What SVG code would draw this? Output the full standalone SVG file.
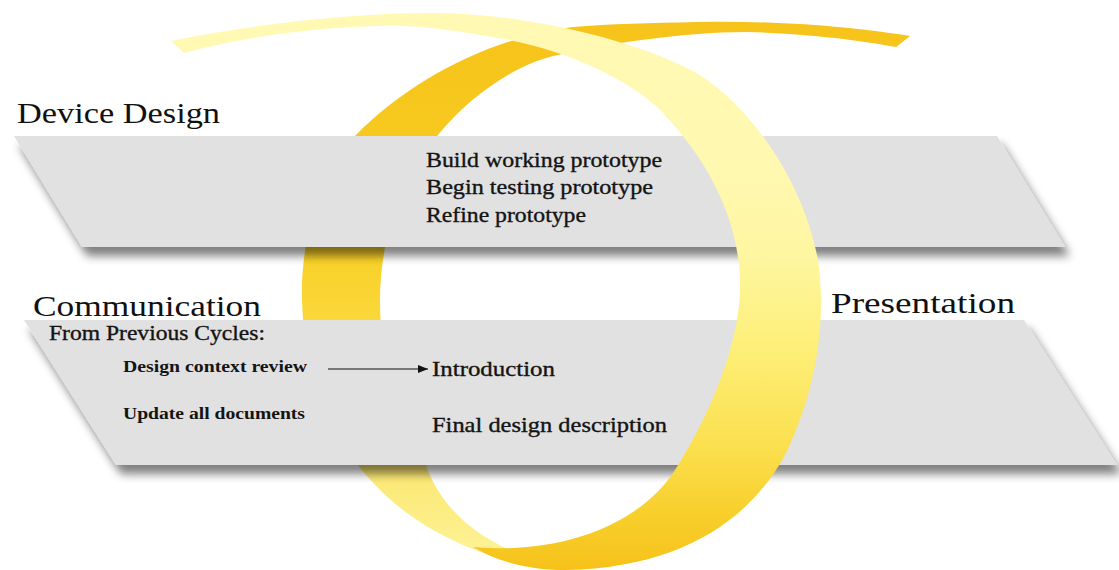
<svg xmlns="http://www.w3.org/2000/svg" width="1119" height="570" viewBox="0 0 1119 570">
<style>
.title{font-family:"Liberation Serif","Times New Roman",serif;font-size:29px;fill:#111;}
.body{font-family:"Liberation Serif","Times New Roman",serif;font-size:21px;fill:#141414;stroke:#141414;stroke-width:0.35px;}
.small{font-family:"Liberation Serif","Times New Roman",serif;font-size:17px;font-weight:bold;fill:#141414;}
.band{fill:#e1e1e1;}
</style>
<defs>
<filter id="shadow" x="-10%" y="-30%" width="120%" height="160%">
<feGaussianBlur in="SourceAlpha" stdDeviation="5"/>
<feOffset dx="5" dy="9" result="b"/>
<feComponentTransfer in="b" result="s"><feFuncA type="linear" slope="0.5"/></feComponentTransfer>
<feMerge><feMergeNode in="s"/><feMergeNode in="SourceGraphic"/></feMerge>
</filter>
<linearGradient id="backGrad" gradientUnits="userSpaceOnUse" x1="0" y1="20" x2="0" y2="570">
<stop offset="0" stop-color="#f6c31a"/>
<stop offset="0.4" stop-color="#f8ce24"/>
<stop offset="0.55" stop-color="#fad83b"/>
<stop offset="0.8" stop-color="#fbe66e"/>
<stop offset="1" stop-color="#fdf49c"/>
</linearGradient>
<linearGradient id="frontGrad" gradientUnits="userSpaceOnUse" x1="0" y1="0" x2="0" y2="570">
<stop offset="0" stop-color="#fff9b4"/>
<stop offset="0.3" stop-color="#fff8b0"/>
<stop offset="0.45" stop-color="#fef6a0"/>
<stop offset="0.6" stop-color="#fdf07a"/>
<stop offset="0.78" stop-color="#fbe050"/>
<stop offset="0.9" stop-color="#f8cf2c"/>
<stop offset="1" stop-color="#f6c21a"/>
</linearGradient>
<marker id="arrow" viewBox="0 0 10 8" refX="10" refY="4" markerWidth="10" markerHeight="8" markerUnits="userSpaceOnUse" orient="auto">
<path d="M0,0 L10,4 L0,8 Z" fill="#111"/>
</marker>
</defs>
<rect width="1119" height="570" fill="#ffffff"/>

<!-- back part of ribbon (behind bands) -->
<g id="ribbon-back">
<path fill="url(#backGrad)" d="M910,36 C860,28 780,20 697,22 C650,23 610,24 573,27 C490,38 410,80 356,135 C320,175 300,240 302,300 C304,380 330,440 380,490 C420,530 480,558 540,568 L510,550 C465,530 438,500 426,465 C400,420 380,370 380,300 C380,240 400,180 438,135 C470,95 520,62 558,55 C600,45 680,32 747,32 C800,33 860,40 896,47 Z"/>
</g>

<g id="band-device-design">
<polygon class="band" filter="url(#shadow)" points="14,136 997,136 1065,247 82,247"/>
</g>
<g id="band-communication">
<polygon class="band" filter="url(#shadow)" points="24,320 1024,320 1117,465 116,465"/>
</g>

<!-- front part of ribbon (over bands) -->
<g id="ribbon-front">
<path fill="url(#frontGrad)" d="M171,41 C250,25 350,13 429,13 C520,12 640,40 700,75 C760,115 805,190 818,260 C828,330 812,400 785,455 C750,520 680,568 566,570 C525,570 495,560 473,547 C560,555 640,525 675,470 C710,415 742,340 740,280 C738,210 700,150 657,107 C630,82 570,50 498,38 C450,30 420,25 379,26 C300,28 230,40 184,53 Z"/>
</g>

<g id="label-device-design">
<text class="title" x="17" y="123" textLength="203" lengthAdjust="spacingAndGlyphs">Device Design</text>
</g>
<g id="label-communication">
<text class="title" x="33" y="316" textLength="228" lengthAdjust="spacingAndGlyphs">Communication</text>
</g>
<g id="label-presentation">
<text class="title" x="831" y="313" textLength="184" lengthAdjust="spacingAndGlyphs">Presentation</text>
</g>

<g id="device-items">
<text class="body" x="426" y="167" textLength="236" lengthAdjust="spacingAndGlyphs">Build working prototype</text>
<text class="body" x="426" y="194" textLength="227" lengthAdjust="spacingAndGlyphs">Begin testing prototype</text>
<text class="body" x="426" y="222" textLength="160" lengthAdjust="spacingAndGlyphs">Refine prototype</text>
</g>

<g id="from-previous">
<text class="body" x="49" y="340" textLength="216" lengthAdjust="spacingAndGlyphs">From Previous Cycles:</text>
</g>
<g id="node-design-context">
<text class="small" x="123" y="372" textLength="184" lengthAdjust="spacingAndGlyphs">Design context review</text>
</g>
<g id="node-update-docs">
<text class="small" x="123" y="419" textLength="182" lengthAdjust="spacingAndGlyphs">Update all documents</text>
</g>
<g id="node-introduction">
<text class="body" x="432" y="376" textLength="123" lengthAdjust="spacingAndGlyphs">Introduction</text>
</g>
<g id="node-final-design">
<text class="body" x="432" y="432" textLength="235" lengthAdjust="spacingAndGlyphs">Final design description</text>
</g>

<g id="connectors">
<line x1="328" y1="369" x2="428" y2="369" stroke="#111" stroke-width="1.2" marker-end="url(#arrow)"/>
</g>
</svg>
